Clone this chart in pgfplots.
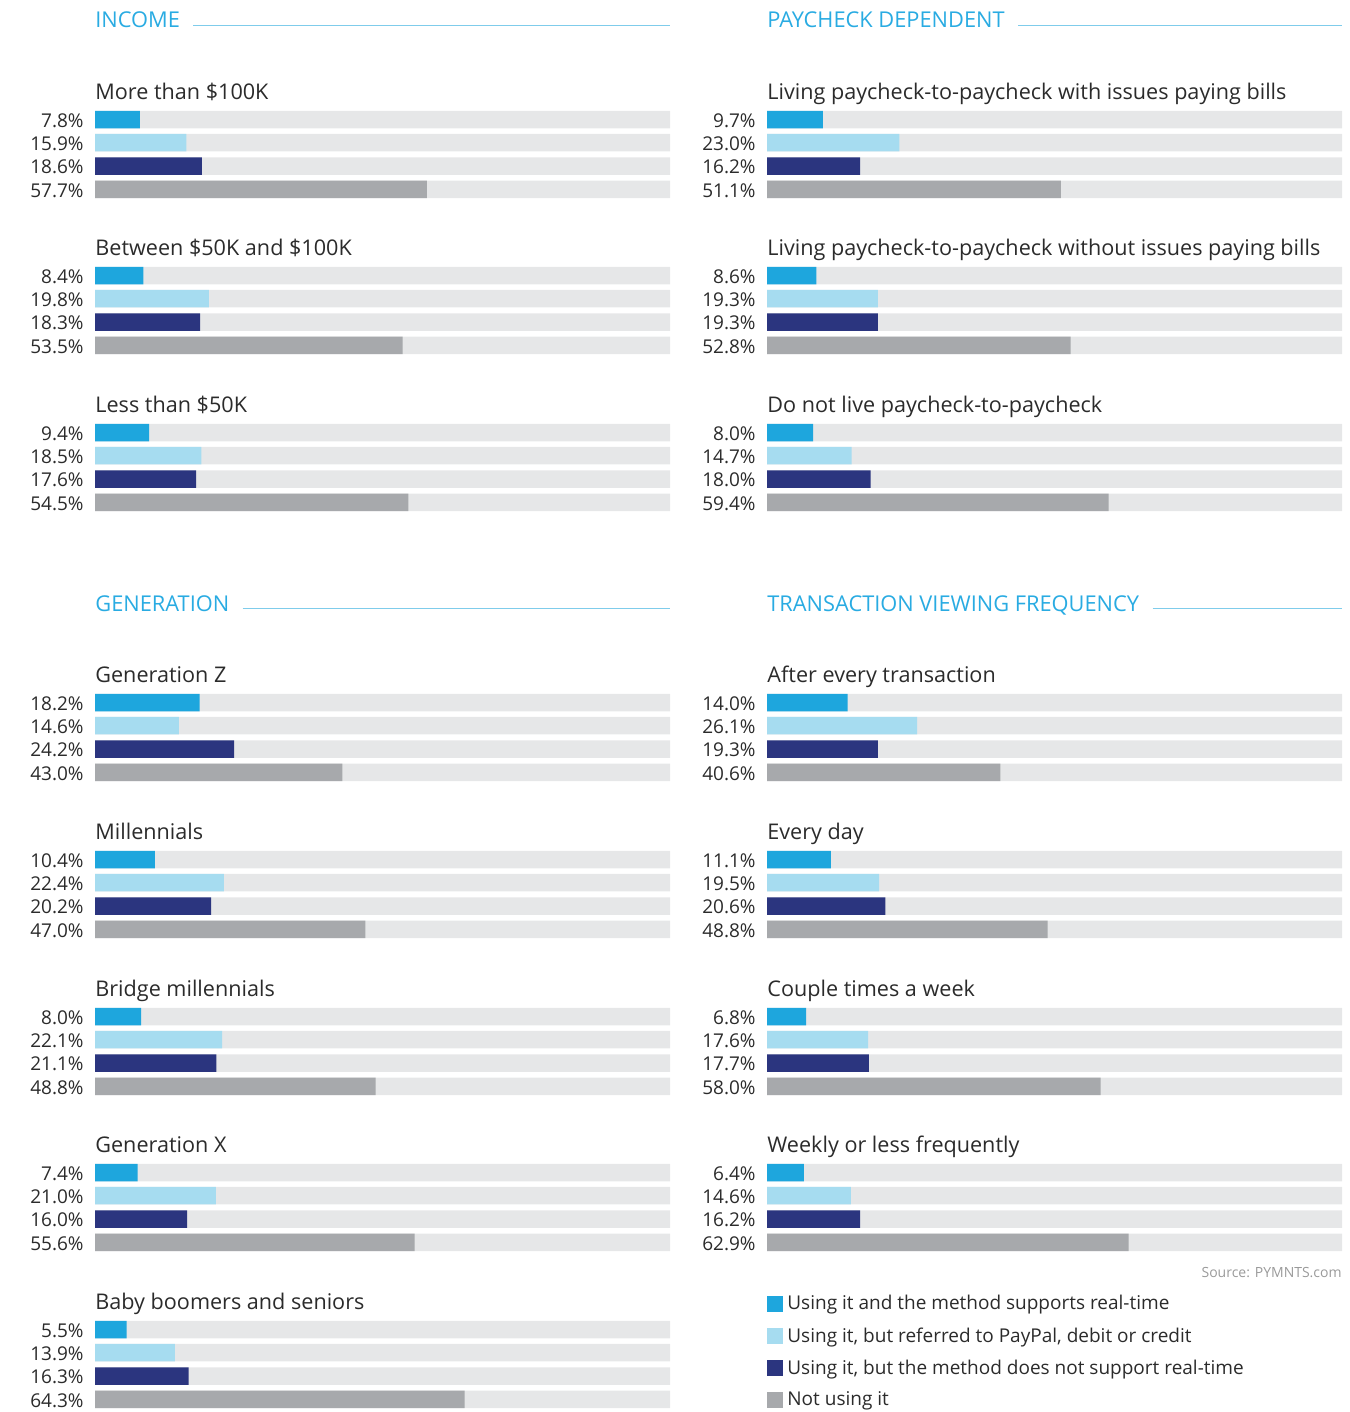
\documentclass[border=0pt]{standalone}
\usepackage{pgfplots}
\pgfplotsset{compat=1.18}
\usepackage{fontspec}
\setmainfont{Open Sans}
\definecolor{cBlue}{HTML}{1EA6DD}
\definecolor{cLight}{HTML}{A6DCF0}
\definecolor{cNavy}{HTML}{2B357F}
\definecolor{cGray}{HTML}{A7A9AC}
\definecolor{cTrack}{HTML}{E6E7E8}
\definecolor{cHead}{HTML}{29ABE2}
\definecolor{cLine}{HTML}{7FCCEB}
\definecolor{cText}{HTML}{2B2B2B}
\definecolor{cSrc}{HTML}{9A9A9A}
\newcommand\labfont{\fontsize{9.5}{11}\selectfont}
\newcommand\titfont{\fontsize{10.8}{12}\selectfont}
\newcommand\hdfont{\fontsize{10.9}{12}\selectfont}
\tikzset{
  ttl/.style={anchor=base west, font=\titfont, text=cText, inner sep=0pt},
  hd/.style={anchor=base west, font=\hdfont, text=cHead, inner sep=0pt},
}
\pgfplotsset{
  panel/.style={
    width=287.5pt, height=706pt, scale only axis,
    xmin=0, xmax=100, ymin=0, ymax=1412, y dir=reverse,
    axis line style={draw=none}, xtick=\empty,
    major tick length=0pt,
    clip=false,
    xbar, bar width=8.75pt,
    every axis plot/.append style={bar shift=0pt, draw=none},
    yticklabel style={font=\labfont, text=cText, inner sep=0pt, xshift=-5.5pt, yshift=-0.6pt},
    anchor=north west,
  },
}
\begin{document}
\begin{tikzpicture}
\useasboundingbox (0,0) rectangle (674.5pt,-706pt);
% ---------------- LEFT COLUMN ----------------
\begin{axis}[panel, at={(47.5pt,0pt)},
  ytick={119.5,142.7,166,189.3, 275.5,298.7,322,345.3, 432.5,455.7,479,502.3, 702.5,725.7,749,772.3, 859.5,882.7,906,929.3, 1016.5,1039.7,1063,1086.3, 1172.5,1195.7,1219,1242.3, 1329.5,1352.7,1376,1399.3},
  yticklabels={7.8\%,15.9\%,18.6\%,57.7\%, 8.4\%,19.8\%,18.3\%,53.5\%, 9.4\%,18.5\%,17.6\%,54.5\%, 18.2\%,14.6\%,24.2\%,43.0\%, 10.4\%,22.4\%,20.2\%,47.0\%, 8.0\%,22.1\%,21.1\%,48.8\%, 7.4\%,21.0\%,16.0\%,55.6\%, 5.5\%,13.9\%,16.3\%,64.3\%},
]
\addplot[fill=cTrack] coordinates {(100,119.5)(100,142.7)(100,166)(100,189.3)(100,275.5)(100,298.7)(100,322)(100,345.3)(100,432.5)(100,455.7)(100,479)(100,502.3)(100,702.5)(100,725.7)(100,749)(100,772.3)(100,859.5)(100,882.7)(100,906)(100,929.3)(100,1016.5)(100,1039.7)(100,1063)(100,1086.3)(100,1172.5)(100,1195.7)(100,1219)(100,1242.3)(100,1329.5)(100,1352.7)(100,1376)(100,1399.3)};
\addplot[fill=cBlue] coordinates {(7.8,119.5)(8.4,275.5)(9.4,432.5)(18.2,702.5)(10.4,859.5)(8.0,1016.5)(7.4,1172.5)(5.5,1329.5)};
\addplot[fill=cLight] coordinates {(15.9,142.7)(19.8,298.7)(18.5,455.7)(14.6,725.7)(22.4,882.7)(22.1,1039.7)(21.0,1195.7)(13.9,1352.7)};
\addplot[fill=cNavy] coordinates {(18.6,166)(18.3,322)(17.6,479)(24.2,749)(20.2,906)(21.1,1063)(16.0,1219)(16.3,1376)};
\addplot[fill=cGray] coordinates {(57.7,189.3)(53.5,345.3)(54.5,502.3)(43.0,772.3)(47.0,929.3)(48.8,1086.3)(55.6,1242.3)(64.3,1399.3)};
\coordinate (LR) at (axis cs:100,0);
\node[hd] (h1) at (axis cs:0,27.3) {INCOME};
\draw[cLine, line width=0.6pt] ([xshift=6.5pt,yshift=1.1pt]h1.base east) -- ([yshift=1.1pt]h1.base east -| LR);
\node[hd] (h3) at (axis cs:0,611) {GENERATION};
\draw[cLine, line width=0.6pt] ([xshift=6.5pt,yshift=1.1pt]h3.base east) -- ([yshift=1.1pt]h3.base east -| LR);
\node[ttl] at (axis cs:0,99) {More than \$100K};
\node[ttl] at (axis cs:0,255) {Between \$50K and \$100K};
\node[ttl] at (axis cs:0,412) {Less than \$50K};
\node[ttl] at (axis cs:0,682) {Generation Z};
\node[ttl] at (axis cs:0,839) {Millennials};
\node[ttl] at (axis cs:0,996) {Bridge millennials};
\node[ttl] at (axis cs:0,1152) {Generation X};
\node[ttl] at (axis cs:0,1309) {Baby boomers and seniors};
\end{axis}
% ---------------- RIGHT COLUMN ----------------
\begin{axis}[panel, at={(383.5pt,0pt)},
  ytick={119.5,142.7,166,189.3, 275.5,298.7,322,345.3, 432.5,455.7,479,502.3, 702.5,725.7,749,772.3, 859.5,882.7,906,929.3, 1016.5,1039.7,1063,1086.3, 1172.5,1195.7,1219,1242.3},
  yticklabels={9.7\%,23.0\%,16.2\%,51.1\%, 8.6\%,19.3\%,19.3\%,52.8\%, 8.0\%,14.7\%,18.0\%,59.4\%, 14.0\%,26.1\%,19.3\%,40.6\%, 11.1\%,19.5\%,20.6\%,48.8\%, 6.8\%,17.6\%,17.7\%,58.0\%, 6.4\%,14.6\%,16.2\%,62.9\%},
  legend style={font=\labfont, text=cText, draw=none, fill=none, inner sep=0pt, at={(axis cs:0,1291)}, anchor=north west, row sep=3.3pt, cells={anchor=west}},
  legend image code/.code={\fill[#1,/tikz/.cd] (0pt,-4pt) rectangle (8pt,4pt);},
]
\addplot[fill=cTrack, forget plot] coordinates {(100,119.5)(100,142.7)(100,166)(100,189.3)(100,275.5)(100,298.7)(100,322)(100,345.3)(100,432.5)(100,455.7)(100,479)(100,502.3)(100,702.5)(100,725.7)(100,749)(100,772.3)(100,859.5)(100,882.7)(100,906)(100,929.3)(100,1016.5)(100,1039.7)(100,1063)(100,1086.3)(100,1172.5)(100,1195.7)(100,1219)(100,1242.3)};
\addplot[fill=cBlue] coordinates {(9.7,119.5)(8.6,275.5)(8.0,432.5)(14.0,702.5)(11.1,859.5)(6.8,1016.5)(6.4,1172.5)};
\addlegendentry{Using it and the method supports real-time}
\addplot[fill=cLight] coordinates {(23.0,142.7)(19.3,298.7)(14.7,455.7)(26.1,725.7)(19.5,882.7)(17.6,1039.7)(14.6,1195.7)};
\addlegendentry{Using it, but referred to PayPal, debit or credit}
\addplot[fill=cNavy] coordinates {(16.2,166)(19.3,322)(18.0,479)(19.3,749)(20.6,906)(17.7,1063)(16.2,1219)};
\addlegendentry{Using it, but the method does not support real-time}
\addplot[fill=cGray] coordinates {(51.1,189.3)(52.8,345.3)(59.4,502.3)(40.6,772.3)(48.8,929.3)(58.0,1086.3)(62.9,1242.3)};
\addlegendentry{Not using it}
\coordinate (RR) at (axis cs:100,0);
\node[hd] (h2) at (axis cs:0,27.3) {PAYCHECK DEPENDENT};
\draw[cLine, line width=0.6pt] ([xshift=6.5pt,yshift=1.1pt]h2.base east) -- ([yshift=1.1pt]h2.base east -| RR);
\node[hd] (h4) at (axis cs:0,611) {TRANSACTION VIEWING FREQUENCY};
\draw[cLine, line width=0.6pt] ([xshift=6.5pt,yshift=1.1pt]h4.base east) -- ([yshift=1.1pt]h4.base east -| RR);
\node[ttl] at (axis cs:0,99) {Living paycheck-to-paycheck with issues paying bills};
\node[ttl] at (axis cs:0,255) {Living paycheck-to-paycheck without issues paying bills};
\node[ttl] at (axis cs:0,412) {Do not live paycheck-to-paycheck};
\node[ttl] at (axis cs:0,682) {After every transaction};
\node[ttl] at (axis cs:0,839) {Every day};
\node[ttl] at (axis cs:0,996) {Couple times a week};
\node[ttl] at (axis cs:0,1152) {Weekly or less frequently};
\node[anchor=base east, inner sep=0pt, font=\fontsize{7}{8}\selectfont, text=cSrc] at (axis cs:100,1277) {Source: PYMNTS.com};
\end{axis}
\end{tikzpicture}
\end{document}
